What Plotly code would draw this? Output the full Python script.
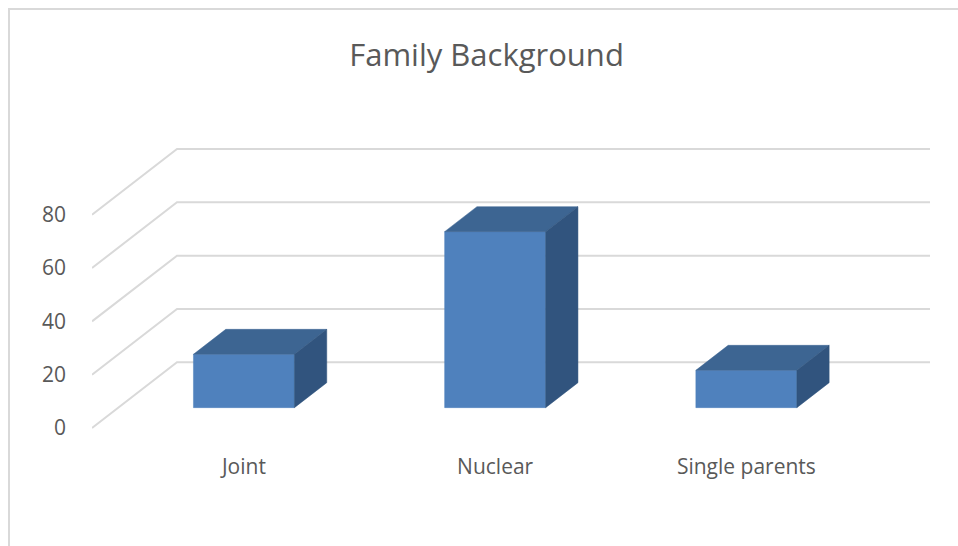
import plotly.graph_objects as go

# ---- data ----
categories = ["Joint", "Nuclear", "Single parents"]
values = [20, 66, 14]
y_ticks = [0, 20, 40, 60, 80]
title_text = "Family Background"

# ---- geometry (pseudo-3D oblique projection) ----
W, H = 958, 546
ML, MR, MT, MB = 92, 28, 140, 106
PX_PER_CAT = 251.2
PX_PER_VAL = 53.33 / 20
DEPTH_DX = 85 / PX_PER_CAT          # depth shift in category units
DEPTH_DY = 65.7 / PX_PER_VAL        # depth shift in value units
F1, F2 = 0.31, 0.69                 # bar front/back depth fractions
BAR_W = 101 / PX_PER_CAT
FRONT_ZERO_PX = 428

plot_w = W - ML - MR
plot_h = H - MT - MB
x_range = [0, plot_w / PX_PER_CAT]
y_bottom = -((H - MB) - FRONT_ZERO_PX) / PX_PER_VAL
y_range = [y_bottom, y_bottom + plot_h / PX_PER_VAL]
n = len(categories)
back_right = n + DEPTH_DX

GRID = "#d9d9d9"
TEXT = "#595959"
FRONT = "#4f81bd"
TOP = "#3d6592"
SIDE = "#31547e"
FONT = "Open Sans"

fig = go.Figure()

# gridlines: oblique floor/side lines + back wall lines
gx, gy = [], []
for v in y_ticks:
    gx += [0, DEPTH_DX, back_right, None]
    gy += [v, v + DEPTH_DY, v + DEPTH_DY, None]
fig.add_trace(go.Scatter(x=gx, y=gy, mode="lines",
                         line=dict(color=GRID, width=2),
                         hoverinfo="skip", showlegend=False))

# bar faces (front, top, side) computed from the values
centers = [i + 0.5 + F1 * DEPTH_DX for i in range(n)]
sx = (F2 - F1) * DEPTH_DX
sy = (F2 - F1) * DEPTH_DY
fx, fy, tx, ty, sdx, sdy = [], [], [], [], [], []
for c, v in zip(centers, values):
    xl = c - BAR_W / 2
    xr = c + BAR_W / 2
    yb = F1 * DEPTH_DY
    yt = v + yb
    fx += [xl, xr, xr, xl, xl, None]
    fy += [yb, yb, yt, yt, yb, None]
    tx += [xl, xr, xr + sx, xl + sx, xl, None]
    ty += [yt, yt, yt + sy, yt + sy, yt, None]
    sdx += [xr, xr, xr + sx, xr + sx, xr, None]
    sdy += [yb, yt, yt + sy, yb + sy, yb, None]
for xs, ys, col in [(fx, fy, FRONT), (tx, ty, TOP), (sdx, sdy, SIDE)]:
    fig.add_trace(go.Scatter(x=xs, y=ys, mode="lines", fill="toself",
                             fillcolor=col, line=dict(width=0.5, color=col),
                             hoverinfo="skip", showlegend=False))

# chart border (top and left visible)
def px_to_paper_x(p):
    return (p - ML) / plot_w

def px_to_paper_y(p):
    return ((H - MB) - p) / plot_h

fig.add_shape(type="rect", xref="paper", yref="paper",
              x0=px_to_paper_x(9), x1=px_to_paper_x(W + 20),
              y0=px_to_paper_y(H + 20), y1=px_to_paper_y(9),
              line=dict(color=GRID, width=2), layer="below")

fig.update_layout(
    width=W, height=H,
    margin=dict(l=ML, r=MR, t=MT, b=MB),
    paper_bgcolor="white", plot_bgcolor="white",
    title=dict(text=title_text, x=486.5 / W, xref="container", xanchor="center",
               y=1 - 55 / H, yref="container", yanchor="middle",
               font=dict(family=FONT, size=31, color=TEXT)),
    xaxis=dict(range=x_range, tickmode="array", tickvals=centers,
               ticktext=categories, showgrid=False, zeroline=False,
               showline=False, ticks="", ticklabelstandoff=12,
               tickfont=dict(family=FONT, size=21, color=TEXT), fixedrange=True),
    yaxis=dict(range=y_range, tickmode="array", tickvals=y_ticks,
               showgrid=False, zeroline=False, showline=False, ticks="",
               ticklabelstandoff=25,
               tickfont=dict(family=FONT, size=21, color=TEXT), fixedrange=True),
)

fig.write_html("out.html")
